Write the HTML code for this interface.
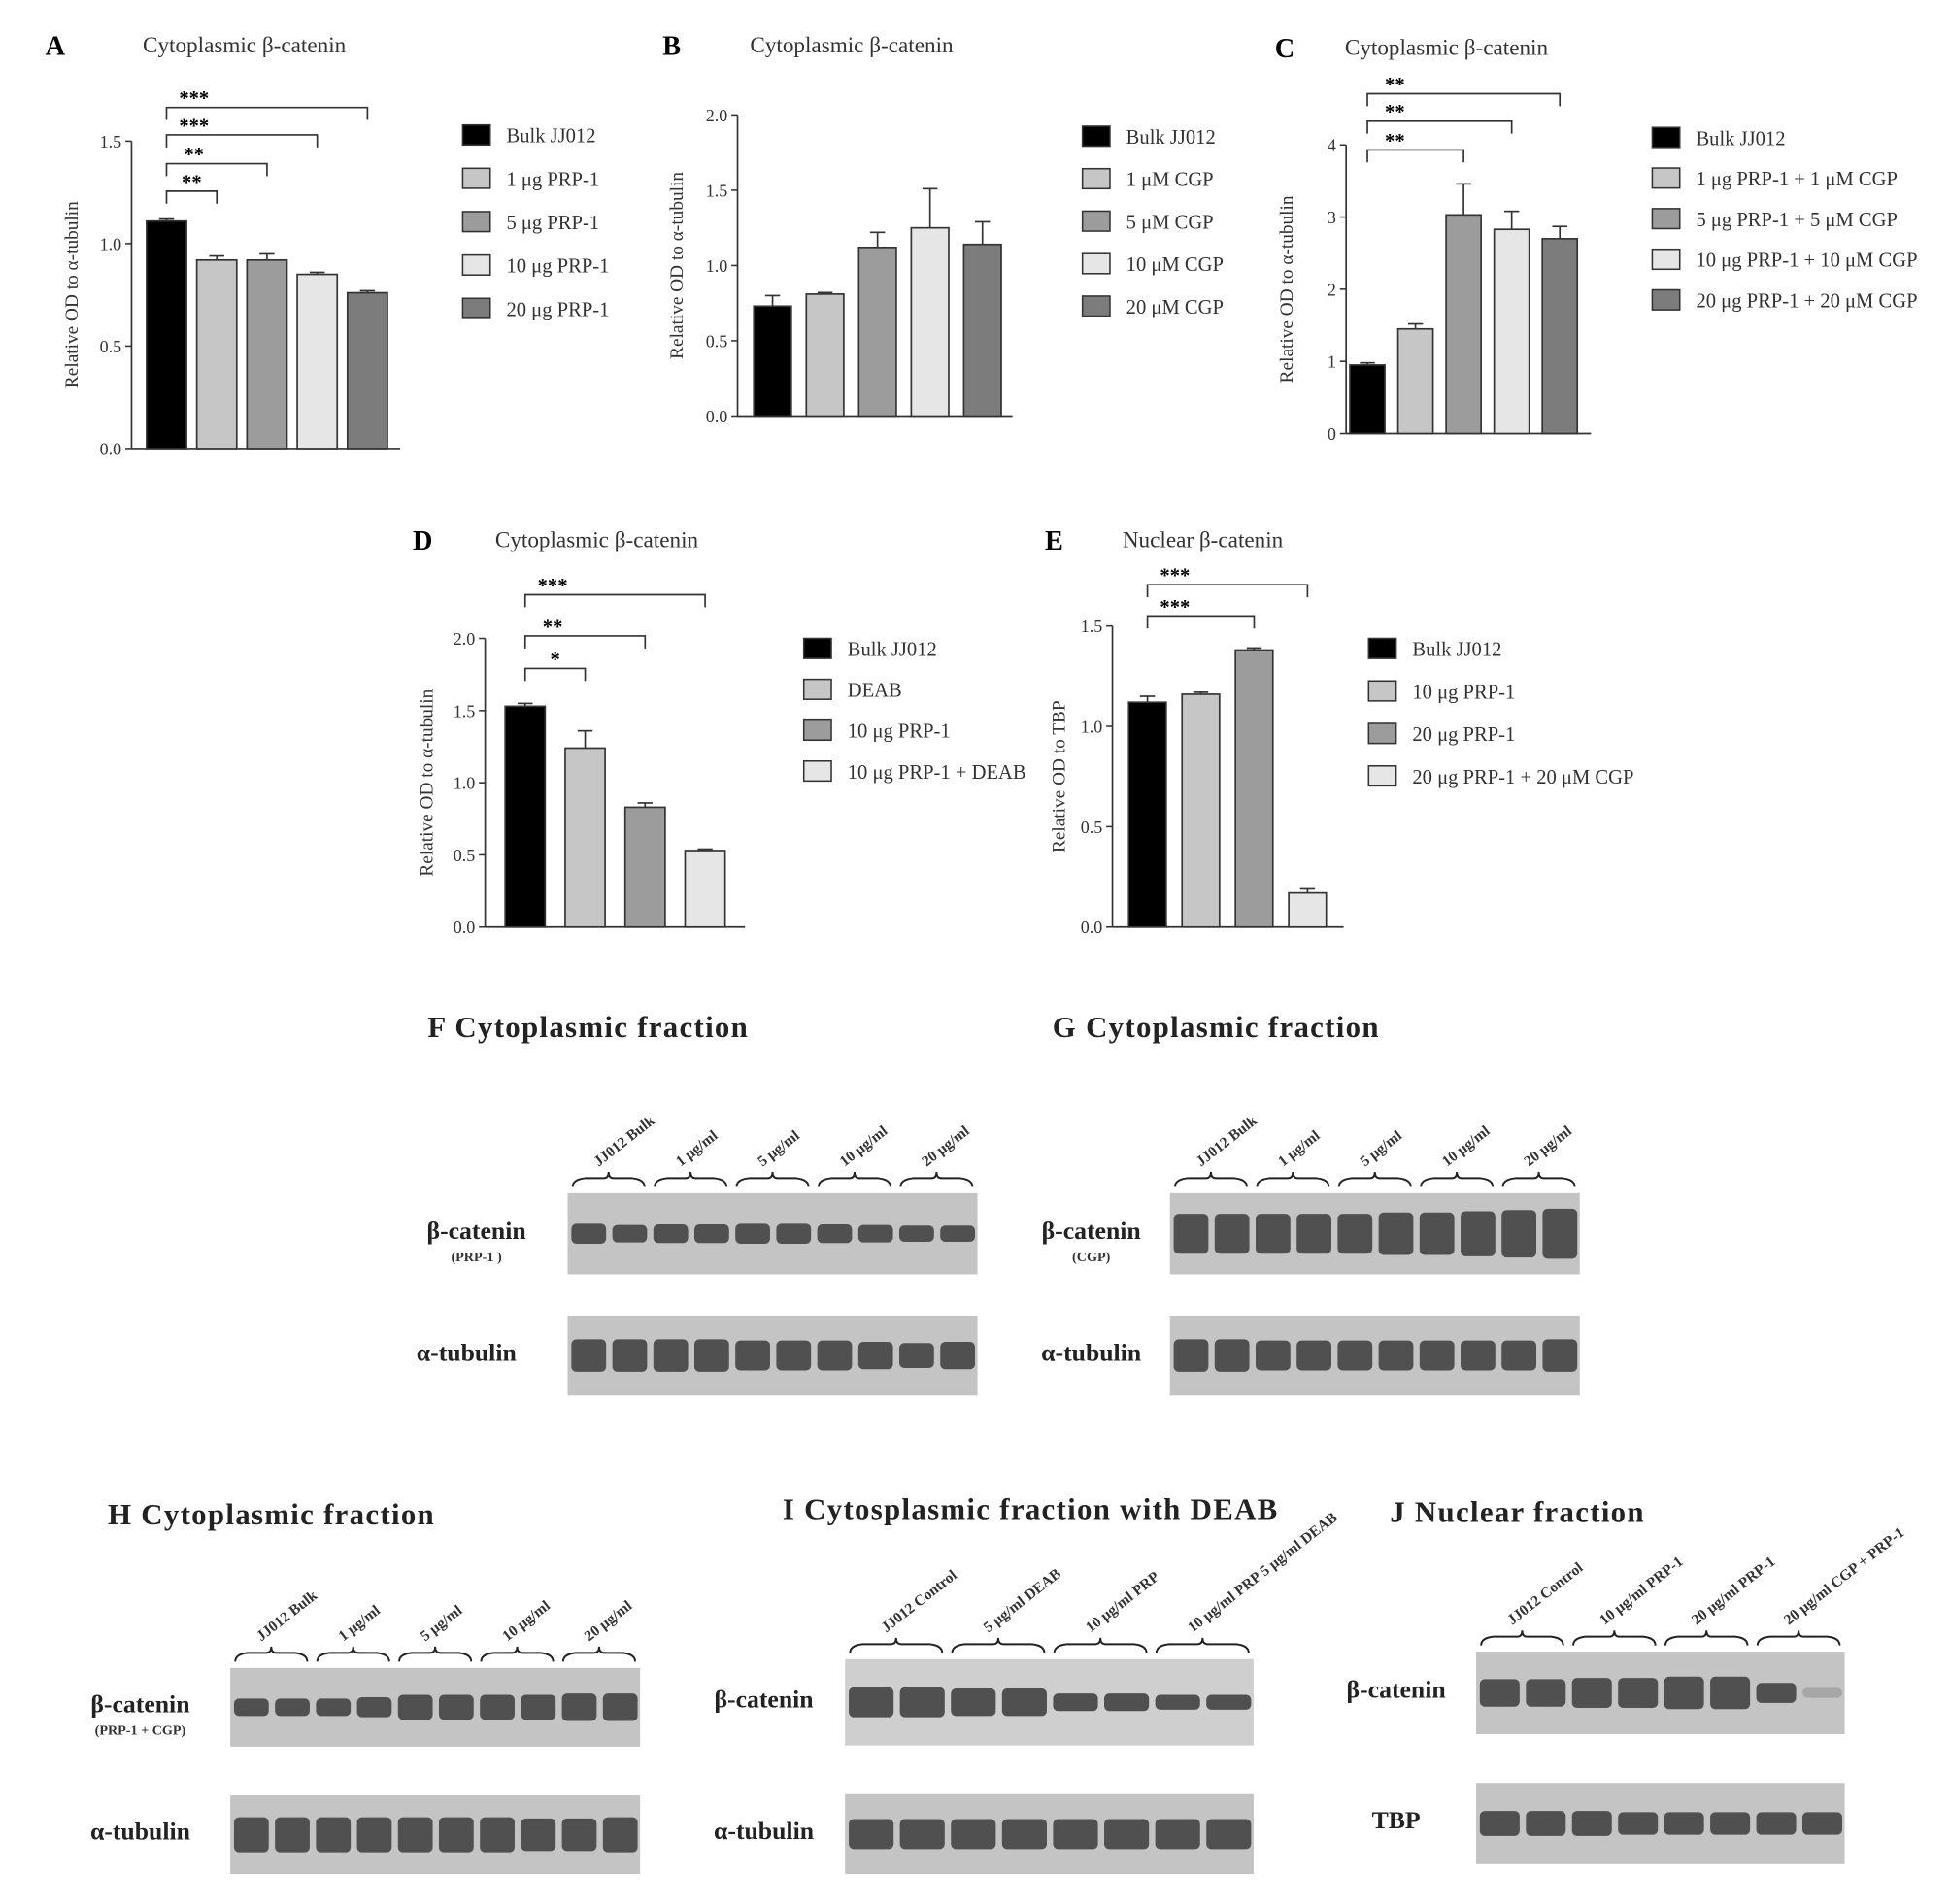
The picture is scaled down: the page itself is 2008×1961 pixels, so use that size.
<!DOCTYPE html>
<html><head><meta charset="utf-8"><style>
html,body{margin:0;padding:0;background:#fff}
svg{display:block;font-family:"Liberation Serif",serif}
</style></head><body>
<svg id="fig" width="2008" height="1961" viewBox="0 0 1560 1524" xmlns="http://www.w3.org/2000/svg"></svg>
<script>
// ---- chart data ----
const aLabels=["Bulk JJ012","1 μg PRP-1","5 μg PRP-1","10 μg PRP-1","20 μg PRP-1"];
const aValues=[1.11,0.92,0.92,0.85,0.76];
const aErrors=[0.01,0.02,0.03,0.01,0.01];
const aTicks=["0.0","0.5","1.0","1.5"];
const bLabels=["Bulk JJ012","1 μM CGP","5 μM CGP","10 μM CGP","20 μM CGP"];
const bValues=[0.73,0.81,1.12,1.25,1.14];
const bErrors=[0.07,0.01,0.1,0.26,0.15];
const bTicks=["0.0","0.5","1.0","1.5","2.0"];
const cLabels=["Bulk JJ012","1 μg PRP-1 + 1 μM CGP","5 μg PRP-1 + 5 μM CGP","10 μg PRP-1 + 10 μM CGP","20 μg PRP-1 + 20 μM CGP"];
const cValues=[0.95,1.45,3.03,2.83,2.7];
const cErrors=[0.03,0.07,0.43,0.25,0.17];
const cTicks=["0","1","2","3","4"];
const dLabels=["Bulk JJ012","DEAB","10 μg PRP-1","10 μg PRP-1 + DEAB"];
const dValues=[1.53,1.24,0.83,0.53];
const dErrors=[0.02,0.12,0.03,0.01];
const dTicks=["0.0","0.5","1.0","1.5","2.0"];
const eLabels=["Bulk JJ012","10 μg PRP-1","20 μg PRP-1","20 μg PRP-1 + 20 μM CGP"];
const eValues=[1.12,1.16,1.38,0.17];
const eErrors=[0.03,0.01,0.01,0.02];
const eTicks=["0.0","0.5","1.0","1.5"];

const svg=document.getElementById('fig');
const NS="http://www.w3.org/2000/svg";
function el(tag,attrs,text){const e=document.createElementNS(NS,tag);for(const k in attrs)e.setAttribute(k,attrs[k]);if(text!==undefined)e.textContent=text;svg.appendChild(e);return e;}
const fills5=["#000","#c6c6c6","#9c9c9c","#e6e6e6","#7c7c7c"];
const fills4=["#000","#c6c6c6","#9c9c9c","#e6e6e6"];

function panel(o){
  const y=v=>o.y0-(v/o.max)*(o.y0-o.yTop);
  // title & letter
  const L=el('text',{x:o.lx,y:o.ly,'font-size':22,'font-weight':'bold'},o.letter);
  
  const T=el('text',{x:o.tx,y:o.ly-2,'font-size':18,fill:'#333'},o.title);
  
  // axes
  const ya=el('line',{x1:o.ax,y1:o.yTop,x2:o.ax,y2:o.y0,stroke:'#333','stroke-width':1.3});
  
  const xa=el('line',{x1:o.ax,y1:o.y0,x2:o.axEnd,y2:o.y0,stroke:'#333','stroke-width':1.3});
  
  o.ticks.forEach(t=>{const v=parseFloat(t);const yy=y(v);
    el('line',{x1:o.ax-5,y1:yy,x2:o.ax,y2:yy,stroke:'#333','stroke-width':1.2});
    const tl=el('text',{x:o.ax-8,y:yy+5,'font-size':14,'text-anchor':'end',fill:'#333'},t);
    });
  const yt=el('text',{x:0,y:0,'font-size':15,fill:'#333','text-anchor':'middle',transform:`translate(${o.ytx},${(o.y0+o.yTop)/2}) rotate(-90)`},o.ytitle);
  
  const fills=o.values.length===5?fills5:fills4;
  o.values.forEach((v,i)=>{const cx=o.bx0+i*o.step;
    const top=y(v+o.errors[i]);
    el('line',{x1:cx,y1:y(v),x2:cx,y2:top,stroke:'#333','stroke-width':1.3});
    el('line',{x1:cx-6,y1:top,x2:cx+6,y2:top,stroke:'#333','stroke-width':1.3});
    const b=el('rect',{x:cx-o.bw/2,y:y(v),width:o.bw,height:o.y0-y(v),fill:fills[i],stroke:'#333','stroke-width':1.3});
    });
  (o.sig||[]).forEach(s=>{const x1=o.bx0,x2=o.bx0+s[0]*o.step;
    el('path',{d:`M${x1} ${s[1]+10}V${s[1]}H${x2}V${s[1]+10}`,fill:'none',stroke:'#333','stroke-width':1.3});
    const st=el('text',{x:x1+(s[0]===1?(x2-x1)/2:22),y:s[1]-2,'font-size':16,'font-weight':'bold','text-anchor':'middle'},s[2]);
    });
  o.labels.forEach((lab,i)=>{const yy=o.legY+i*o.legStep;
    const r=el('rect',{x:o.legX,y:yy-8,width:22,height:16,fill:fills[i],stroke:'#333','stroke-width':1.2});
    
    const t=el('text',{x:o.legX+35,y:yy+6,'font-size':16,fill:'#333'},lab);
    });
}
panel({letter:'A',lx:36,ly:44,tx:114,title:'Cytoplasmic β-catenin',ax:105,axEnd:320,y0:359,yTop:113,max:1.5,ticks:aTicks,ytx:62,ytitle:'Relative OD to α-tubulin',values:aValues,errors:aErrors,bx0:133,step:40.2,bw:32,
  sig:[[1,153,'**'],[2,131,'**'],[3,108,'***'],[4,86,'***']],labels:aLabels,legX:370,legY:108,legStep:34.7});
panel({letter:'B',lx:530,ly:44,tx:600,title:'Cytoplasmic β-catenin',ax:590,axEnd:810,y0:333,yTop:92,max:2.0,ticks:bTicks,ytx:546,ytitle:'Relative OD to α-tubulin',values:bValues,errors:bErrors,bx0:618,step:42,bw:30,
  sig:[],labels:bLabels,legX:866,legY:109,legStep:34});
panel({letter:'C',lx:1020,ly:46,tx:1076,title:'Cytoplasmic β-catenin',ax:1077,axEnd:1273,y0:347,yTop:116,max:4,ticks:cTicks,ytx:1034,ytitle:'Relative OD to α-tubulin',values:cValues,errors:cErrors,bx0:1094,step:38.5,bw:28,
  sig:[[2,120,'**'],[3,97,'**'],[4,75,'**']],labels:cLabels,legX:1322,legY:110,legStep:32.5});
panel({letter:'D',lx:330,ly:440,tx:396,title:'Cytoplasmic β-catenin',ax:388,axEnd:596,y0:742,yTop:511,max:2.0,ticks:dTicks,ytx:346,ytitle:'Relative OD to α-tubulin',values:dValues,errors:dErrors,bx0:420,step:48,bw:32,
  sig:[[1,535,'*'],[2,509,'**'],[3,476,'***']],labels:dLabels,legX:643,legY:519,legStep:32.7});
panel({letter:'E',lx:836,ly:440,tx:898,title:'Nuclear β-catenin',ax:890,axEnd:1075,y0:742,yTop:501,max:1.5,ticks:eTicks,ytx:852,ytitle:'Relative OD to TBP',values:eValues,errors:eErrors,bx0:918,step:42.7,bw:30,
  sig:[[2,493,'***'],[3,468,'***']],labels:eLabels,legX:1095,legY:519,legStep:34});

// ---- blots ----
function blot(o){
  const h=el('text',{x:o.hx,y:o.hy,'font-size':24,'font-weight':'bold','letter-spacing':'1',fill:'#222'},o.heading);
  
  const n=o.lanes;const w=o.x1-o.x0;const lw=w/n;
  o.groups.forEach((g,gi)=>{const per=n/o.groups.length;const gx0=o.x0+gi*per*lw+4,gx1=o.x0+(gi+1)*per*lw-4;
    el('path',{d:`M${gx0} ${o.by}q0 -6 10 -7h${(gx1-gx0)/2-14}q4 0 4 -5q0 5 4 5h${(gx1-gx0)/2-14}q10 1 10 7`,fill:'none',stroke:'#222','stroke-width':1.5});
    const t=el('text',{x:0,y:0,'font-size':12,'font-weight':'bold',fill:'#333',transform:`translate(${(gx0+gx1)/2-8},${o.by-16}) rotate(-38)`},g);
    });
  o.rows.forEach(r=>{
    const bg=el('rect',{x:o.x0,y:r.y,width:w,height:r.h,fill:r.bg||'#c4c4c4'});
    
    for(let i=0;i<n;i++){const bh=r.bands[i];if(bh<=0)continue;
      el('rect',{x:o.x0+i*lw+3,y:r.y+r.h/2-bh/2,width:lw-5,height:bh,rx:4,fill:r.col||'#505050',opacity:r.op?r.op[i]:1});}
    const lt=el('text',{x:r.lx,y:r.y+r.h/2+4,'font-size':20,'font-weight':'bold','text-anchor':'middle',fill:'#222'},r.label);
    
    if(r.sub){const s=el('text',{x:r.lx,y:r.y+r.h/2+22,'font-size':11,'font-weight':'bold','text-anchor':'middle',fill:'#333'},r.sub);
      }
  });
}
const conc=["JJ012 Bulk","1 μg/ml","5 μg/ml","10 μg/ml","20 μg/ml"];
blot({heading:'F  Cytoplasmic  fraction',hx:342,hy:830,x0:454,x1:782,lanes:10,by:950,groups:conc,rows:[
  {y:955,h:65,label:'β-catenin',sub:'(PRP-1 )',lx:381,bands:[16,14,15,15,16,16,15,14,13,13]},
  {y:1053,h:64,label:'α-tubulin',lx:373,bands:[26,26,26,26,24,24,24,22,20,22]}]});
blot({heading:'G  Cytoplasmic  fraction',hx:842,hy:830,x0:936,x1:1264,lanes:10,by:950,groups:conc,rows:[
  {y:955,h:65,label:'β-catenin',sub:'(CGP)',lx:873,bands:[32,32,32,32,32,34,34,36,38,40]},
  {y:1053,h:64,label:'α-tubulin',lx:873,bands:[26,26,24,24,24,24,24,24,24,26]}]});
blot({heading:'H  Cytoplasmic  fraction',hx:86,hy:1220,x0:184,x1:512,lanes:10,by:1330,groups:conc,rows:[
  {y:1335,h:63,label:'β-catenin',sub:'(PRP-1 + CGP)',lx:112,bands:[14,14,14,16,20,20,20,20,22,22]},
  {y:1437,h:63,label:'α-tubulin',lx:112,bands:[28,28,28,28,28,28,28,26,26,28]}]});
blot({heading:'I  Cytosplasmic  fraction with DEAB',hx:626,hy:1216,x0:676,x1:1003,lanes:8,by:1323,groups:["JJ012 Control","5 μg/ml DEAB","10 μg/ml PRP","10 μg/ml PRP 5 μg/ml DEAB"],rows:[
  {y:1328,h:69,label:'β-catenin',lx:611,bg:'#cfcfcf',bands:[24,24,22,22,14,14,12,12]},
  {y:1436,h:64,label:'α-tubulin',lx:611,bands:[24,24,24,24,24,24,24,24]}]});
blot({heading:'J  Nuclear  fraction',hx:1112,hy:1218,x0:1181,x1:1476,lanes:8,by:1317,groups:["JJ012 Control","10 μg/ml PRP-1","20 μg/ml PRP-1","20 μg/ml CGP + PRP-1"],rows:[
  {y:1322,h:66,label:'β-catenin',lx:1117,bands:[22,22,24,24,26,26,16,8],op:[1,1,1,1,1,1,1,0.25]},
  {y:1427,h:65,label:'TBP',lx:1117,bands:[20,20,20,18,18,18,18,18]}]});
</script>
</body></html>
